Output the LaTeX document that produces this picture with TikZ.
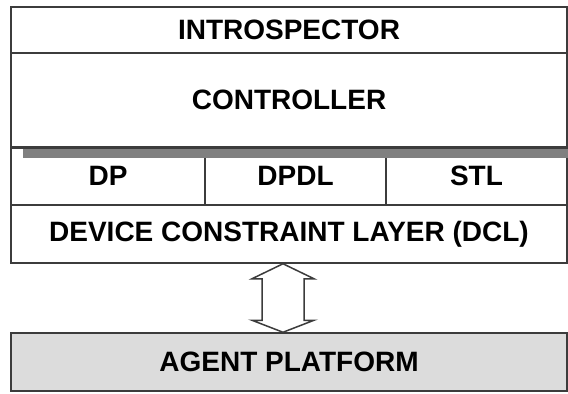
\documentclass[tikz,border=0pt]{standalone}
\usepackage{fontspec}
\setmainfont{Liberation Sans}
\usetikzlibrary{calc,positioning}
\definecolor{edgegray}{HTML}{3C3C3C}
\definecolor{platgray}{HTML}{DCDCDC}
\definecolor{shadegray}{HTML}{808080}

\begin{document}
\begin{tikzpicture}
    [x=0.5pt,y=-0.5pt,
    layer/.style={
      rectangle,
      draw=edgegray,
      line width=0.75pt,
      fill=white,
      inner sep=0pt,
      font=\fontsize{14}{16}\selectfont\bfseries,
      minimum width=278pt
    },
    part/.style={
      layer,
      minimum height=29pt
    },
    platform/.style={
      layer,
      fill=platgray,
      minimum height=29pt
    },
    hollow/.style={
      draw=edgegray,
      line width=0.75pt,
      fill=white,
      line join=miter
    }
  ]
    \useasboundingbox (0,0) rectangle (568,393);
    \draw (289,30) node[layer,minimum height=23pt] (intro) {INTROSPECTOR};
    \draw (289,100) node[layer,minimum height=47pt] (ctrl) {CONTROLLER};
    \path (108,176) node[part,minimum width=97pt] (dp) {DP}
          (295.5,176) node[part,minimum width=90.5pt] (dpdl) {DPDL}
          (476.5,176) node[part,minimum width=90.5pt] (stl) {STL};
    \draw (289,234) node[part] (dcl) {DEVICE CONSTRAINT LAYER (DCL)};
    \draw (289,362) node[platform] (agent) {AGENT PLATFORM};
    % shadow under the controller
    \fill[shadegray] (23,148) rectangle (dcl.east |- 0,157.5);
    \draw[edgegray,line width=0.75pt] (ctrl.south west) -- (ctrl.south east);
    % two-way link
    \coordinate (up) at (283,0 |- dcl.south);
    \coordinate (down) at (283,0 |- agent.north);
    \draw[hollow] (up) -- ++(31,15) -- ++(-10,0) -- ($(down)+(21,-12)$)
        -- ++(10,0) -- (down) -- ++(-31,-12) -- ++(10,0)
        -- ($(up)+(-21,15)$) -- ++(-10,0) -- cycle;
\end{tikzpicture}
\end{document}
